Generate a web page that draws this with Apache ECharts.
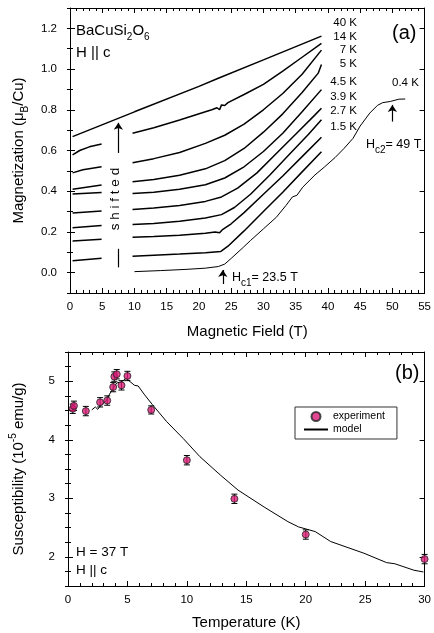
<!DOCTYPE html>
<html>
<head>
<meta charset="utf-8">
<script src="https://cdn.jsdelivr.net/npm/echarts@6/dist/echarts.min.js"></script>
<style>
html,body{margin:0;padding:0;background:#fff;}
#main{width:434px;height:633px;}
</style>
</head>
<body>
<div id="main"></div>
<script>
// ---- panel (a): magnetization vs field, points are [field (T), M (muB/Cu)]
const m40K   = [[0.4,0.668],[10,0.79],[20,0.915],[23,0.955],[30,1.045],[39,1.162]];
const m14K   = [[9.7,0.685],[13,0.712],[17,0.75],[21,0.79],[22,0.8],[22.8,0.81],[23.2,0.8],[23.5,0.824],[24,0.821],[24.5,0.835],[27,0.875],[30,0.925],[33,0.99],[36,1.058],[39,1.126]];
const m7K    = [[9.7,0.54],[13,0.56],[17,0.59],[21,0.635],[24,0.675],[27,0.73],[30,0.8],[33,0.88],[36,0.975],[39,1.093]];
const m5K    = [[9.7,0.446],[13,0.457],[17,0.478],[21,0.51],[24,0.55],[27,0.61],[30,0.69],[33,0.78],[36,0.885],[38.5,0.98],[39,1.022]];
const m4p5K  = [[9.7,0.389],[13,0.395],[17,0.41],[21,0.432],[24,0.465],[27,0.52],[30,0.595],[33,0.685],[36,0.79],[39,0.899]];
const m3p9K  = [[9.7,0.31],[13,0.317],[17,0.33],[21,0.35],[23.5,0.372],[26,0.415],[29,0.49],[32,0.585],[35,0.68],[38,0.775],[39,0.808]];
const m2p7K  = [[9.7,0.236],[13,0.242],[17,0.252],[21,0.268],[23.5,0.285],[25.5,0.32],[28,0.385],[31,0.48],[34,0.58],[37,0.68],[39,0.751]];
const m1p5K  = [[9.7,0.174],[13,0.178],[17,0.184],[21,0.193],[22.5,0.2],[23.2,0.196],[23.6,0.21],[25,0.24],[27,0.295],[30,0.385],[33,0.475],[36,0.57],[39,0.665]];
const mLow   = [[9.7,0.08],[13,0.085],[17,0.091],[21,0.098],[23.4,0.104],[24.5,0.13],[27,0.205],[30,0.3],[33,0.395],[36,0.495],[39,0.594]];
const m0p4K  = [[10,0.005],[14,0.01],[18,0.016],[21,0.022],[23,0.03],[24,0.042],[25,0.07],[26.9,0.125],[28,0.158],[30,0.215],[32,0.272],[33.5,0.33],[34.5,0.372],[35.2,0.38],[36.1,0.42],[38,0.48],[39.5,0.52],[41.1,0.565],[42.5,0.61],[43.9,0.66],[45,0.72],[46.5,0.784],[47.7,0.822],[48.5,0.835],[49.7,0.841],[51,0.852],[52,0.853]];

// low-field pieces (0-5 T), shifted
const lo14K  = [[0.4,0.578],[1.5,0.6],[3,0.618],[4.9,0.632]];
const lo7K   = [[0.4,0.49],[2,0.505],[4.9,0.52]];
const lo5K   = [[0.4,0.41],[4.9,0.431]];
const lo4p5K = [[0.4,0.386],[4.9,0.394]];
const lo3p9K = [[0.4,0.293],[4.9,0.303]];
const lo2p7K = [[0.4,0.221],[4.9,0.232]];
const lo1p5K = [[0.4,0.155],[4.9,0.164]];
const loLow  = [[0.4,0.059],[4.9,0.071]];

const tempLabels = ['40 K','14 K','7 K','5 K','4.5 K','3.9 K','2.7 K','1.5 K'];
const magTicks = [0,0.2,0.4,0.6,0.8,1.0,1.2];

// arrows [x, yFrom, yTo]
const arrowsA = [[7.5,0.588,0.736],[23.7,-0.056,0.013],[50,0.742,0.824]];
const shiftBar = [7.5,0.026,0.117];

// ---- panel (b): susceptibility vs temperature
const expT   = [0.4,0.5,1.5,2.7,3.3,3.8,3.9,4.1,4.5,5.0,7.0,10,14,20,30];
const expChi = [4.53,4.58,4.49,4.64,4.67,4.90,5.08,5.12,4.93,5.09,4.51,3.65,2.99,2.38,1.96];
const expErr = [0.08,0.08,0.08,0.08,0.08,0.08,0.08,0.08,0.08,0.08,0.07,0.08,0.08,0.08,0.08];
const modelT   = [2.0,2.3,2.5,2.8,3.2,3.5,3.8,4.1,4.5,4.9,5.3,5.6,5.9,6.4,7.1,8.3,9.7,11.1,12.8,14.3,16.5,18.5,19.4,20.8,22.1,24.9,26.8,27.5,29.1,29.9];
const modelChi = [4.51,4.56,4.52,4.6,4.66,4.78,4.88,4.97,4.99,5.05,4.98,4.93,4.92,4.78,4.6,4.31,4.02,3.71,3.40,3.14,2.85,2.6,2.51,2.43,2.26,2.06,1.90,1.88,1.77,1.74];
const chiTicks = [2,3,4,5];

const FONT = "'Liberation Sans', Arial, Helvetica, sans-serif";
const subStyle = {fontSize:10, fontFamily:FONT, color:'#000', verticalAlign:'bottom', lineHeight:12};
const supStyle = {fontSize:10, fontFamily:FONT, color:'#000', verticalAlign:'top', lineHeight:12};

function xAxes(grid, min, max, name, nameGap, margin){
    const base = {
        type:'value', gridIndex:grid, min:min, max:max, interval:5,
        splitLine:{show:false},
        axisLine:{show:true, onZero:false, lineStyle:{color:'#000', width:1}},
        axisTick:{inside:true, length:5, lineStyle:{color:'#000'}},
        minorTick:{show:true, splitNumber:5, length:3, lineStyle:{color:'#000'}}
    };
    return [
        Object.assign({}, base, {position:'bottom', name:name, nameLocation:'middle', nameGap:nameGap,
            nameTextStyle:{fontSize:15, fontFamily:FONT, color:'#000'},
            axisLabel:{margin:8, fontSize:11.5, fontFamily:FONT, color:'#000'}}),
        Object.assign({}, base, {position:'top', axisLabel:{show:false}})
    ];
}

function yAxes(grid, min, max, step, majors, fmt, name, nameGap, rich){
    const base = {
        type:'value', gridIndex:grid, min:min, max:max, interval:step,
        splitLine:{show:false},
        axisLine:{show:true, onZero:false, lineStyle:{color:'#000', width:1}}
    };
    return [
        Object.assign({}, base, {position:'left', name:name, nameLocation:'middle', nameGap:nameGap, nameRotate:90,
            nameTextStyle:{fontSize:15, fontFamily:FONT, color:'#000', lineHeight:22, rich:rich},
            axisTick:{inside:true, length:5, customValues:majors, lineStyle:{color:'#000'}},
            axisLabel:{customValues:majors, formatter:fmt, margin:13, fontSize:11.5, fontFamily:FONT, color:'#000'}}),
        Object.assign({}, base, {position:'left', axisLine:{show:false},
            axisTick:{inside:true, length:3, lineStyle:{color:'#000'}}, axisLabel:{show:false}}),
        Object.assign({}, base, {position:'right',
            axisTick:{inside:true, length:5, customValues:majors, lineStyle:{color:'#000'}}, axisLabel:{show:false}}),
        Object.assign({}, base, {position:'right', axisLine:{show:false},
            axisTick:{inside:true, length:3, lineStyle:{color:'#000'}}, axisLabel:{show:false}})
    ];
}

const hiCurves = [m40K, m14K, m7K, m5K, m4p5K, m3p9K, m2p7K, m1p5K, mLow, m0p4K];
const loCurves = [lo14K, lo7K, lo5K, lo4p5K, lo3p9K, lo2p7K, lo1p5K, loLow];

const series = [];
hiCurves.concat(loCurves).forEach(function(d){
    series.push({
        type:'line', xAxisIndex:0, yAxisIndex:0, data:d, symbol:'none', silent:true,
        lineStyle:{color:'#000', width: d === m0p4K ? 1 : 1.5}
    });
});

// arrows + bar under "shifted"
const markData = arrowsA.map(function(a){
    return [{coord:[a[0],a[1]], symbol:'none'}, {coord:[a[0],a[2]], symbol:'arrow'}];
});
markData.push([{coord:[shiftBar[0],shiftBar[1]], symbol:'none'}, {coord:[shiftBar[0],shiftBar[2]], symbol:'none'}]);
series[0].markLine = {
    silent:true, symbolSize:7, label:{show:false},
    lineStyle:{color:'#000', width:1.2, type:'solid'},
    emphasis:{disabled:true},
    data:markData
};

// panel (b)
series.push({
    name:'model', type:'line', xAxisIndex:2, yAxisIndex:4, symbol:'none', silent:true,
    data: modelT.map(function(t,i){ return [t, modelChi[i]]; }),
    lineStyle:{color:'#000', width:1}, itemStyle:{color:'#000'}
});
series.push({
    type:'custom', xAxisIndex:2, yAxisIndex:4, silent:true, z:4,
    data: expT.map(function(t,i){ return [t, expChi[i], expErr[i]]; }),
    encode:{x:0, y:1},
    renderItem:function(params, api){
        const x = api.value(0), y = api.value(1), e = api.value(2);
        const p1 = api.coord([x, y + e]), p2 = api.coord([x, y - e]);
        const st = {stroke:'#000', lineWidth:1};
        return {type:'group', children:[
            {type:'line', shape:{x1:p1[0], y1:p1[1], x2:p2[0], y2:p2[1]}, style:st},
            {type:'line', shape:{x1:p1[0]-3, y1:p1[1], x2:p1[0]+3, y2:p1[1]}, style:st},
            {type:'line', shape:{x1:p2[0]-3, y1:p2[1], x2:p2[0]+3, y2:p2[1]}, style:st}
        ]};
    }
});
series.push({
    name:'experiment', type:'scatter', xAxisIndex:2, yAxisIndex:4, z:5, silent:true,
    data: expT.map(function(t,i){ return [t, expChi[i]]; }),
    symbol:'circle', symbolSize:7,
    itemStyle:{color:'#dc1a78', borderColor:'#222', borderWidth:1}
});

// text annotations (pixel layout)
const labelY = [23,37,50,64,82,97,111,127];
const graphics = tempLabels.map(function(t,i){
    return {type:'text', style:{x:357, y:labelY[i], text:t, align:'right', verticalAlign:'middle',
        fontSize:11.5, fontFamily:FONT, fill:'#000'}};
});
function txt(x, y, text, size, extra){
    return {type:'text', style:Object.assign({x:x, y:y, text:text, verticalAlign:'middle',
        fontSize:size, fontFamily:FONT, fill:'#000'}, extra || {})};
}
const subRich = {s:Object.assign({}, subStyle, {fill:'#000'})};
graphics.push(
    txt(76, 31, 'BaCuSi{s|2}O{s|6}', 15, {rich:subRich, lineHeight:22}),
    txt(76, 53, 'H || c', 15),
    txt(392, 33, '(a)', 20),
    txt(392, 83, '0.4 K', 11.5),
    txt(366, 145, 'H{s|c2}= 49 T', 12.5, {rich:subRich, lineHeight:20}),
    txt(232, 278, 'H{s|c1}= 23.5 T', 12.5, {rich:subRich, lineHeight:20}),
    {type:'text', x:115, y:199, rotation:Math.PI/2,
        style:{x:0, y:0, text:'s h i f t e d', align:'center', verticalAlign:'middle', fontSize:13.5, fontFamily:FONT, fill:'#000'}},
    txt(395, 373, '(b)', 20),
    txt(76, 552, 'H = 37 T', 13.5),
    txt(76, 570, 'H || c', 13.5)
);

const option = {
    animation:false,
    backgroundColor:'#fff',
    grid:[
        {left:66, top:8, width:362, height:285},
        {left:66, top:352, width:362, height:234}
    ],
    xAxis: xAxes(0, 0, 55, 'Magnetic Field (T)', 31)
        .concat(xAxes(1, 0, 30, 'Temperature (K)', 29)),
    yAxis: yAxes(0, -0.1, 1.3, 0.1, magTicks, function(v){ return v.toFixed(1); },
            'Magnetization (\u03bc{sub|B}/Cu)', 40, {sub:subStyle})
        .concat(yAxes(1, 1.5, 5.5, 0.25, chiTicks, function(v){ return String(Math.round(v)); },
            'Susceptibility (10{sup|-5} emu/g)', 38, {sup:supStyle})),
    legend:{
        left:295, top:407, orient:'vertical',
        data:[{name:'experiment'}, {name:'model', itemStyle:{opacity:0}}],
        itemWidth:24, itemHeight:9, itemGap:2, itemTextGap:9,
        padding:[4,12,4,8],
        borderColor:'#333', borderWidth:1, borderRadius:0,
        selectedMode:false,
        textStyle:{fontSize:10.5, fontFamily:FONT, color:'#000'}
    },
    graphic:graphics,
    series:series
};

const chart = echarts.init(document.getElementById('main'));
chart.setOption(option);
</script>
</body>
</html>
